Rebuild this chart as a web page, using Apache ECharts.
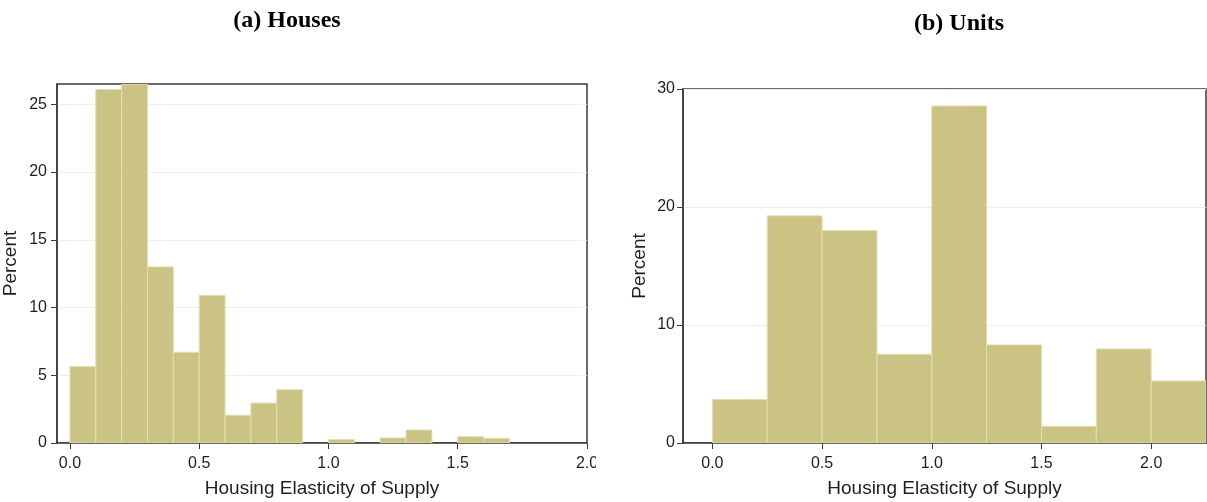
<!DOCTYPE html>
<html>
<head>
<meta charset="utf-8">
<script src="https://cdn.jsdelivr.net/npm/echarts@6/dist/echarts.min.js"></script>
<style>
html,body{margin:0;padding:0;background:#fff;}
#chart{width:1207px;height:502px;}
</style>
</head>
<body>
<div id="chart"></div>
<script>
// Panel (a) Houses: bins of width 0.1 starting at 0
const housesBinStarts = [0.0,0.1,0.2,0.3,0.4,0.5,0.6,0.7,0.8,0.9,1.0,1.1,1.2,1.3,1.4,1.5,1.6];
const housesPercent   = [5.65,26.1,26.5,13.0,6.7,10.9,2.05,2.95,3.93,0,0.25,0,0.37,0.96,0,0.47,0.34];
const housesBinWidth = 0.1;
// Panel (b) Units: bins of width 0.25 starting at 0
const unitsBinStarts = [0.0,0.25,0.5,0.75,1.0,1.25,1.5,1.75,2.0];
const unitsPercent   = [3.68,19.25,18.0,7.52,28.56,8.31,1.41,7.97,5.26];
const unitsBinWidth = 0.25;

const xTickValues = [0, 0.5, 1.0, 1.5, 2.0];
const housesYTicks = [0, 5, 10, 15, 20, 25];
const unitsYTicks = [0, 10, 20, 30];

const titles = ['(a) Houses', '(b) Units'];
const xName = 'Housing Elasticity of Supply';
const yName = 'Percent';

const barColor = '#cbc383';
const barBorder = '#e3ddb2';
const axisColor = '#3a3a3a';
const textColor = '#1e1e28';

function toData(starts, vals, w) {
  return starts.map((s, i) => [s, s + w, vals[i]]);
}

function renderBar(params, api) {
  const p0 = api.coord([api.value(0), 0]);
  const p1 = api.coord([api.value(1), api.value(2)]);
  if (api.value(2) <= 0) return null;
  return {
    type: 'rect',
    shape: { x: p0[0], y: p1[1], width: p1[0] - p0[0], height: p0[1] - p1[1] },
    style: { fill: barColor, stroke: barBorder, lineWidth: 1 }
  };
}

function xAxis(gridIndex, min, max, nameGap) {
  return {
    type: 'value', gridIndex, min, max,
    name: xName, nameLocation: 'middle', nameGap,
    nameTextStyle: { fontFamily: 'Liberation Sans, Arial', fontSize: 19, color: textColor, verticalAlign: 'top' },
    axisLine: { show: true, onZero: false, lineStyle: { color: axisColor, width: 1.5 } },
    axisTick: { show: true, length: 6, customValues: xTickValues, lineStyle: { color: axisColor } },
    axisLabel: { customValues: xTickValues, margin: 13, fontFamily: 'Liberation Sans, Arial', fontSize: 16, color: textColor,
      formatter: v => v.toFixed(1) },
    splitLine: { show: false }
  };
}

function yAxis(gridIndex, max, interval, ticks, nameGap, margin) {
  return {
    type: 'value', gridIndex, min: 0, max, interval,
    name: yName, nameLocation: 'middle', nameGap, nameRotate: 90,
    nameTextStyle: { fontFamily: 'Liberation Sans, Arial', fontSize: 19, color: textColor },
    axisLine: { show: true, onZero: false, lineStyle: { color: axisColor, width: 1.5 } },
    axisTick: { show: true, length: 6, customValues: ticks, lineStyle: { color: axisColor } },
    axisLabel: { customValues: ticks, margin, fontFamily: 'Liberation Sans, Arial', fontSize: 16, color: textColor },
    splitLine: { show: true, lineStyle: { color: '#e8f0f3', width: 1 } }
  };
}

const chart = echarts.init(document.getElementById('chart'), null, { renderer: 'canvas' });
chart.setOption({
  animation: false,
  backgroundColor: '#fff',
  title: [
    { text: titles[0], left: 282, top: 4, textAlign: 'center',
      textStyle: { fontFamily: 'Liberation Serif, Times New Roman', fontWeight: 'bold', fontSize: 24, color: '#000' } },
    { text: titles[1], left: 954, top: 7, textAlign: 'center',
      textStyle: { fontFamily: 'Liberation Serif, Times New Roman', fontWeight: 'bold', fontSize: 24, color: '#000' } }
  ],
  grid: [
    { left: 57, top: 84, width: 530, height: 359, show: true, borderColor: axisColor, borderWidth: 1.5, backgroundColor: '#fff',
      containLabel: false, outerBoundsMode: 'none' },
    { left: 683, top: 89, width: 523, height: 354, show: true, borderColor: axisColor, borderWidth: 1.5, backgroundColor: '#fff',
      containLabel: false, outerBoundsMode: 'none' }
  ],
  xAxis: [ xAxis(0, -0.05, 2.0, 36), xAxis(1, -0.134, 2.25, 36) ],
  yAxis: [ yAxis(0, 26.5, 5, housesYTicks, 37, 10), yAxis(1, 30, 10, unitsYTicks, 34, 8) ],
  series: [
    { type: 'custom', xAxisIndex: 0, yAxisIndex: 0, renderItem: renderBar, clip: true,
      encode: { x: [0, 1], y: 2 }, data: toData(housesBinStarts, housesPercent, housesBinWidth) },
    { type: 'custom', xAxisIndex: 1, yAxisIndex: 1, renderItem: renderBar, clip: true,
      encode: { x: [0, 1], y: 2 }, data: toData(unitsBinStarts, unitsPercent, unitsBinWidth) }
  ],
  graphic: [
    { type: 'rect', z: 100, shape: { x: 596, y: 450, width: 30, height: 25 }, style: { fill: '#fff' } }
  ]
});
</script>
</body>
</html>
